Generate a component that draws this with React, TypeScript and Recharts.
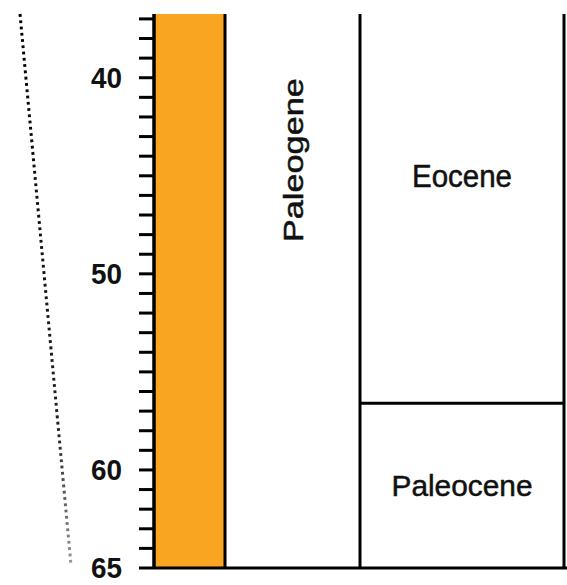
import React from 'react';
import {
  ComposedChart,
  XAxis,
  YAxis,
  ReferenceArea,
  ReferenceLine,
  ReferenceDot,
} from 'recharts';

// Age axis (Ma)
const ageDomain: [number, number] = [36.75, 65];
const tickValues = [37, 38, 39, 40, 41, 42, 43, 44, 45, 46, 47, 48, 49, 50, 51, 52, 53, 54, 55, 56, 57, 58, 59, 60, 61, 62, 63, 64, 65];
const labeledTicks = [40, 50, 60, 65];

// Column edges along the hidden horizontal axis
const columnEdges = [0, 71, 206, 410];

// Period column
const periods = [{ name: 'Paleogene', start: 36.75, end: 65, labelAge: 44.2 }];

// Epoch column
const epochs = [
  { name: 'Eocene', start: 36.75, end: 56.6, labelAge: 45.0 },
  { name: 'Paleocene', start: 56.6, end: 65, labelAge: 60.8 },
];

// Dotted guide line (x in hidden-axis units, y in Ma)
const guideLine = [
  { x: -134, y: 36.75 },
  { x: -83, y: 64.85 },
];

const FONT = '"Liberation Sans", Arial, Helvetica, sans-serif';
const ORANGE = '#F9A522';

const AgeTick = (props: any) => {
  const { x, y, payload } = props;
  if (!labeledTicks.includes(payload.value)) return <g />;
  return (
    <text
      x={x}
      y={y}
      dy="0.33em"
      textAnchor="end"
      fontFamily={FONT}
      fontWeight="bold"
      fontSize={30}
      fill="#111"
      textLength={31}
      lengthAdjust="spacingAndGlyphs"
    >
      {payload.value}
    </text>
  );
};

const makeLabel = (text: string, size: number, len: number, rotate: boolean) => (p: any) => {
  const { cx, cy } = p;
  return (
    <text
      x={0}
      y={0}
      dy="0.36em"
      transform={`translate(${cx},${cy})${rotate ? ' rotate(-90)' : ''}`}
      textAnchor="middle"
      fontFamily={FONT}
      fontSize={size}
      fill="#111"
      stroke="#111"
      strokeWidth={0.5}
      textLength={len}
      lengthAdjust="spacingAndGlyphs"
    >
      {text}
    </text>
  );
};

export default function App() {
  const periodX = (columnEdges[1] + columnEdges[2]) / 2;
  const epochX = (columnEdges[2] + columnEdges[3]) / 2;
  return (
    <div style={{ position: 'absolute', left: 0, top: 0 }}>
      <ComposedChart
        width={567}
        height={585}
        data={[]}
        margin={{ top: 14, right: 3, bottom: 17, left: 0 }}
      >
        <defs>
          <linearGradient id="dotFade" gradientUnits="userSpaceOnUse" x1="0" y1="15" x2="0" y2="568">
            <stop offset="0%" stopColor="#000" />
            <stop offset="75%" stopColor="#222" />
            <stop offset="100%" stopColor="#999" />
          </linearGradient>
        </defs>
        <XAxis type="number" dataKey="x" domain={[columnEdges[0], columnEdges[3]]} allowDataOverflow hide />
        <YAxis
          type="number"
          domain={ageDomain}
          reversed
          allowDataOverflow
          ticks={tickValues}
          interval={0}
          width={154}
          tickSize={15}
          tickMargin={17}
          tick={AgeTick}
          tickLine={{ stroke: '#000', strokeWidth: 3 }}
          axisLine={{ stroke: '#000', strokeWidth: 3 }}
        />
        <ReferenceArea
          x1={columnEdges[0]}
          x2={columnEdges[1]}
          y1={ageDomain[0]}
          y2={ageDomain[1]}
          fill={ORANGE}
          fillOpacity={1}
          stroke="none"
          ifOverflow="visible"
        />
        {columnEdges.map((e) => (
          <ReferenceLine key={'c' + e} x={e} stroke="#000" strokeWidth={3} ifOverflow="visible" />
        ))}
        {epochs.slice(1).map((ep) => (
          <ReferenceLine
            key={'b' + ep.name}
            segment={[
              { x: columnEdges[2], y: ep.start },
              { x: columnEdges[3], y: ep.start },
            ]}
            stroke="#000"
            strokeWidth={3}
            ifOverflow="visible"
          />
        ))}
        <ReferenceLine
          segment={[
            { x: columnEdges[0], y: ageDomain[1] },
            { x: columnEdges[3] + 3, y: ageDomain[1] },
          ]}
          stroke="#000"
          strokeWidth={3}
          ifOverflow="visible"
        />
        <ReferenceLine
          segment={guideLine}
          stroke="url(#dotFade)"
          strokeWidth={3}
          strokeDasharray="2.8 3.5"
          ifOverflow="visible"
        />
        {periods.map((p) => (
          <ReferenceDot
            key={p.name}
            x={periodX}
            y={p.labelAge}
            r={1}
            ifOverflow="visible"
            shape={makeLabel(p.name, 28, 164, true)}
          />
        ))}
        {epochs.map((ep) => (
          <ReferenceDot
            key={ep.name}
            x={epochX}
            y={ep.labelAge}
            r={1}
            ifOverflow="visible"
            shape={makeLabel(ep.name, ep.name === 'Eocene' ? 31 : 30, ep.name === 'Eocene' ? 100 : 141, false)}
          />
        ))}
      </ComposedChart>
    </div>
  );
}
